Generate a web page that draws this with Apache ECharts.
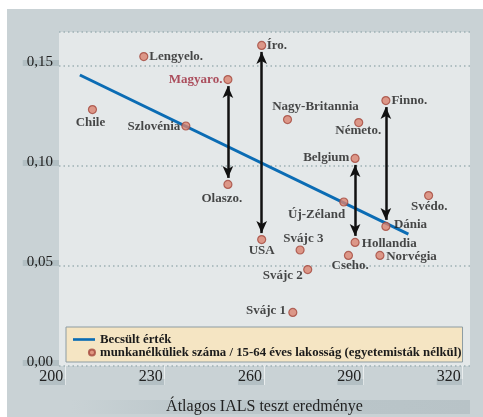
<!DOCTYPE html>
<html>
<head>
<meta charset="utf-8">
<script src="https://cdn.jsdelivr.net/npm/echarts@6/dist/echarts.min.js"></script>
<style>
html,body{margin:0;padding:0;background:#fff;}
#c{width:483px;height:417px;}
</style>
</head>
<body>
<div id="c"></div>
<script>
// ---- data ----
const countries = ['Lengyelo.','Íro.','Magyaro.','Chile','Szlovénia','Nagy-Britannia','Finno.','Németo.','Belgium','Olaszo.','Új-Zéland','Svédo.','Dánia','USA','Hollandia','Svájc 3','Cseho.','Norvégia','Svájc 2','Svájc 1'];
const ialsScore = [223.7,259.3,249.1,208.2,236.4,267.1,296.8,288.6,287.5,249.1,284.1,309.7,296.8,259.3,287.5,270.9,285.5,295.0,273.2,268.7];
const unemployment = [0.1547,0.1603,0.1432,0.1282,0.1200,0.1232,0.1327,0.1217,0.1038,0.0908,0.0820,0.0852,0.0698,0.0632,0.0618,0.0580,0.0553,0.0553,0.0482,0.0268];
const fitScore = [204.4,303.6];
const fitValue = [0.1455,0.0659];
const arrowPairs = [['Magyaro.','Olaszo.'],['Íro.','USA'],['Finno.','Dánia'],['Belgium','Hollandia']];
const xTickValues = [200,230,260,290,320];
const seriesNames = ['Becsült érték','munkanélküliek száma / 15-64 éves lakosság (egyetemisták nélkül)'];
const xTitle = 'Átlagos IALS teszt eredménye';

// ---- style / layout ----
const labelStyle = {
  'Lengyelo.':['left',5.5,0.5],'Íro.':['left',5,0.5],'Magyaro.':['right',-5.5,0.5],
  'Chile':['center',-2,13],'Szlovénia':['right',-5.5,0.7],'Nagy-Britannia':['center',28,-12.5],
  'Finno.':['left',5.5,0.5],'Németo.':['center',-0.5,8.5],'Belgium':['right',-5.7,-0.5],
  'Olaszo.':['center',-6,14],'Új-Zéland':['right',1.3,12.7],'Svédo.':['center',0.7,11],
  'Dánia':['left',8,-1.3],'USA':['center',0,11.3],'Hollandia':['left',6.7,1],
  'Svájc 3':['center',3.3,-11],'Cseho.':['center',1.7,10.7],'Norvégia':['left',6.3,1.3],
  'Svájc 2':['center',-25,6.5],'Svájc 1':['right',-6.7,-1.5]
};
const SERIF = '"Liberation Serif","DejaVu Serif",serif';
const gridTop = 32, gridBottom = 51, H = 417;
const yMax = 0.167;
const pxPerY = (H - gridTop - gridBottom) / yMax;
const arrowGap = 6.5 / pxPerY;
const SHADE = 'rgba(95,120,130,0.2)';
function bandGradient(a, b) {
  return new echarts.graphic.LinearGradient(0,0,0,1,[
    {offset:0,color:'rgba(0,0,0,0)'},{offset:a,color:'rgba(0,0,0,0)'},
    {offset:a+0.001,color:SHADE},{offset:b,color:SHADE},
    {offset:Math.min(1,b+0.001),color:'rgba(0,0,0,0)'},{offset:1,color:'rgba(0,0,0,0)'}
  ]);
}

const idx = n => countries.indexOf(n);
const points = countries.map((n,i) => {
  const s = labelStyle[n];
  return {
    name: n,
    value: [ialsScore[i], unemployment[i]],
    label: {
      show: true, position: 'inside', formatter: n,
      align: s[0], verticalAlign: 'middle', offset: [s[1], s[2]],
      color: n === 'Magyaro.' ? '#9c2538' : '#1b1b1b'
    }
  };
});
const arrows = arrowPairs.map(p => {
  const a = idx(p[0]), b = idx(p[1]);
  return [
    {coord: [ialsScore[a], unemployment[a] - arrowGap]},
    {coord: [ialsScore[b], unemployment[b] + arrowGap]}
  ];
});

const chart = echarts.init(document.getElementById('c'), null, {renderer:'canvas'});
chart.setOption({
  animation: false,
  backgroundColor: '#ffffff',
  graphic: [
    {type:'rect', shape:{x:7,y:9,width:476,height:408}, style:{fill:'#c9d2d5'}, z:-10, silent:true},
    {type:'rect', shape:{x:59,y:32,width:411,height:334}, style:{fill:'#e4e8e9'}, z:-9, silent:true},
    {type:'rect', shape:{x:72,y:400,width:398,height:14}, z:-9, silent:true,
      style:{fill:new echarts.graphic.LinearGradient(0,0,1,0,[{offset:0,color:'#c9d2d5'},{offset:0.3,color:'#bcc7cb'},{offset:1,color:'#b8c3c7'}])}}
  ],
  grid: {left:59, right:13, top:gridTop, bottom:gridBottom, containLabel:false, outerBoundsMode:'none'},
  xAxis: {
    type:'value', min:198.1, max:322.2,
    name: xTitle, nameLocation:'middle', nameGap:33,
    nameTextStyle:{fontFamily:SERIF, fontSize:16, color:'#222', verticalAlign:'top'},
    axisLine:{show:false},
    axisTick:{show:true, customValues:xTickValues, length:19, lineStyle:{color:'#e9edee', width:1}},
    axisLabel:{customValues:xTickValues, fontFamily:SERIF, fontSize:16, lineHeight:16, color:'#222',
      align:'right', verticalAlign:'middle', margin:11, padding:[0,2,0,0],
      backgroundColor: bandGradient(0.62, 1),
      formatter: v => String(v)},
    splitLine:{show:false}
  },
  yAxis: {
    type:'value', min:0, max:yMax, interval:0.05,
    axisLine:{show:false}, axisTick:{show:false},
    axisLabel:{fontFamily:SERIF, fontSize:15, lineHeight:5, color:'#222', margin:0, verticalAlign:'bottom',
      padding:[0,6,1,4], backgroundColor: SHADE,
      formatter: v => v.toFixed(2).replace('.', ','), showMaxLabel:false},
    splitLine:{show:true, lineStyle:{color:'#9db0b4', width:1.5, type:[1.5,3]}}
  },
  legend: {
    orient:'vertical', left:66, top:327,
    data:[{name:seriesNames[0], icon:'path://M0,0L25,0L25,3L0,3Z'},
          {name:seriesNames[1], icon:'path://M0,4L0.01,4M21,4a4,4 0 1,0 8,0a4,4 0 1,0 -8,0'}],
    itemWidth:22, itemHeight:8, itemGap:0,
    padding:[6,1,3,6],
    backgroundColor:'#f5e5c3', borderColor:'#8d9ca2', borderWidth:1,
    textStyle:{fontFamily:SERIF, fontSize:12.8, fontWeight:'bold', color:'#1b1b1b', lineHeight:11.5}
  },
  series: [
    {
      name: seriesNames[0], type:'line', z:2,
      data: fitScore.map((x,i) => [x, fitValue[i]]),
      showSymbol:false, symbol:'none',
      lineStyle:{color:'#0b6cb4', width:3}, itemStyle:{color:'#0b6cb4'}
    },
    {
      name:'arrows', type:'line', z:3, data:[],
      markLine:{
        silent:true, symbol:['arrow','arrow'], symbolSize:[8,12],
        lineStyle:{color:'#111', width:2.5, type:'solid'},
        label:{show:false}, data: arrows
      }
    },
    {
      name: seriesNames[1], type:'scatter', z:4,
      symbol:'circle', symbolSize:8,
      itemStyle:{color:'#d9826f', borderColor:'#a4483d', borderWidth:1.2},
      label:{fontFamily:SERIF, fontSize:13, fontWeight:'bold'},
      data: points
    }
  ]
});
</script>
</body>
</html>
